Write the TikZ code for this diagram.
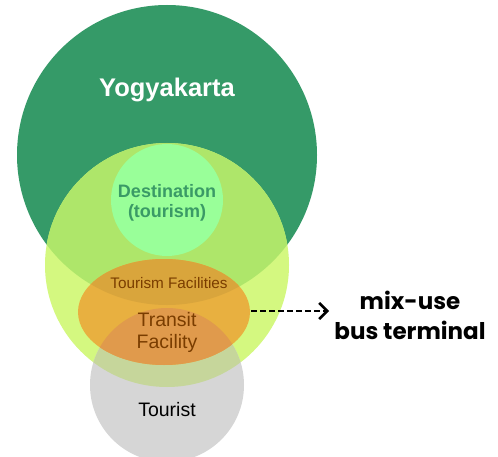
\documentclass[tikz,border=0pt]{standalone}
\usepackage{fontspec}
\setmainfont{Liberation Sans}
\newfontfamily\geofont{Poppins}
\usetikzlibrary{arrows.meta}
\definecolor{dkgreen}{HTML}{359A68}
\definecolor{ylw}{HTML}{D4F880}
\definecolor{ylwdk}{HTML}{AEE66A}
\definecolor{greyc}{HTML}{D6D6D6}
\definecolor{greyylw}{HTML}{C6D69B}
\definecolor{destc}{HTML}{99FF99}
\definecolor{destt}{HTML}{3A9A66}
\definecolor{orgc}{HTML}{E8B040}
\definecolor{orgdk}{HTML}{D9A53C}
\definecolor{orggrey}{HTML}{E09A4C}
\definecolor{brownt}{HTML}{7A3D00}
\tikzset{
  lbl/.style={inner sep=0pt, align=center},
}
\begin{document}
\begin{tikzpicture}[x=1pt,y=-1pt]
\clip (0,0) rectangle (498,457);
\fill[white] (0,0) rectangle (498,457);
% Yogyakarta
\fill[dkgreen] (167,155) circle (150);
% yellow-green circle
\fill[ylw] (167,265) circle (122);
\begin{scope}
  \clip (167,155) circle (150);
  \fill[ylwdk] (167,265) circle (122);
\end{scope}
% tourist circle
\fill[greyc] (167,385) circle (77);
\begin{scope}
  \clip (167,265) circle (122);
  \fill[greyylw] (167,385) circle (77);
\end{scope}
% destination
\fill[destc] (167,200) circle (56);
% orange ellipse
\fill[orgc] (164,312) ellipse [x radius=86, y radius=53];
\begin{scope}
  \clip (164,312) ellipse [x radius=86, y radius=53];
  \fill[orgdk] (167,155) circle (150);
  \fill[orggrey] (167,385) circle (77);
\end{scope}
% texts
\node[lbl, text=white, font=\bfseries\fontsize{25.5}{30}\selectfont] (yog) at (167,90) {Yogyakarta};
\node[lbl, text=destt, font=\bfseries\fontsize{18}{20}\selectfont] (dest) at (167,203) {Destination\\(tourism)};
\node[lbl, text=brownt, font=\fontsize{15.3}{18}\selectfont] (tf) at (169,283) {Tourism Facilities};
\node[lbl, text=brownt, font=\fontsize{19.5}{22}\selectfont] (transit) at (167,332) {Transit\\Facility};
\node[lbl, text=black, font=\fontsize{19.5}{22}\selectfont] (tourist) at (167,410) {Tourist};
\node[lbl, text=black, font=\geofont\bfseries\fontsize{23}{30}\selectfont] (mix) at (410,315) {mix-use\\bus terminal};
% arrow
\coordinate (oe) at (251,311);
\coordinate (ae) at (329,311);
\draw[line width=2.6pt, dash pattern=on 6pt off 3pt, -{Straight Barb[length=8pt,width=16pt,line width=2.6pt]}] (oe) -- (ae);
\end{tikzpicture}
\end{document}
